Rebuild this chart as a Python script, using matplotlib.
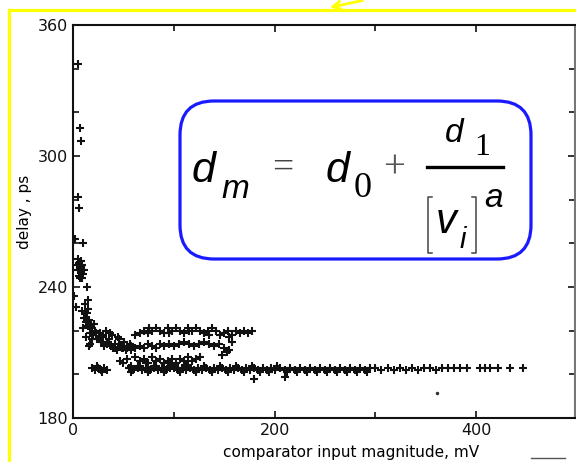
import matplotlib
matplotlib.use("Agg")
import matplotlib.pyplot as plt
from matplotlib.patches import FancyBboxPatch, Rectangle
from matplotlib.lines import Line2D
from matplotlib.transforms import IdentityTransform

## delay vs comparator input magnitude
outlier_v = [5, 7, 8, 5, 6, 2, 10, 1, 3, 14, 15]
outlier_d = [342, 313, 307, 281, 276, 262, 260, 236, 231, 240, 234]

knee_v = [4, 5, 6, 7, 8, 9, 10, 6, 7, 8, 5, 9, 11]
knee_d = [250, 253, 251, 249, 247, 250, 246, 245, 244, 252, 248, 244, 248]

steep_v = [9, 11, 12, 13, 14, 15, 16, 17, 18, 19, 20, 22, 24, 10, 13, 15, 17, 21, 23, 26, 28, 30, 12, 16, 19]
steep_d = [229, 226, 232, 224, 228, 222, 225, 219, 223, 221, 218, 220, 216, 221, 217, 230, 214, 223, 219, 217, 215, 218, 226, 213, 216]

trans_v = [27, 30, 33, 36, 39, 42, 45, 48, 51, 54, 57, 31, 35, 40, 44, 49, 53, 58, 29, 37, 46]
trans_d = [219, 217, 220, 216, 218, 214, 217, 213, 215, 212, 214, 213, 215, 212, 211, 212, 211, 213, 215, 219, 216]

upper_v = [62, 66, 70, 74, 78, 82, 86, 90, 94, 98, 102, 106, 110, 114, 118, 122, 126, 130, 134, 138,
           142, 146, 150, 154, 158, 162, 166, 170, 174, 178, 75, 95, 115, 135, 155]
upper_d = [218, 219, 220, 219, 220, 221, 220, 219, 221, 220, 221, 220, 219, 221, 220, 221, 220, 219, 220, 221,
           220, 218, 219, 220, 218, 220, 219, 220, 219, 220, 221, 219, 220, 218, 217]

band2_v = [34, 38, 42, 46, 50, 54, 58, 62, 66, 70, 74, 78, 82, 86, 90, 95, 100, 105, 110, 115,
           120, 125, 130, 135, 140, 145, 150, 155, 158, 148, 153]
band2_d = [214, 213, 212, 214, 212, 213, 211, 212, 213, 212, 214, 213, 212, 214, 213, 214, 213, 214, 215, 214,
           213, 214, 215, 214, 213, 214, 212, 211, 215, 209, 210]

mid_v = [47, 50, 54, 58, 62, 66, 70, 74, 78, 82, 86, 90, 94, 98, 102, 106, 110, 114, 118, 122, 126,
         56, 64, 72, 80, 88, 96, 104, 112]
mid_d = [206, 205, 207, 204, 208, 206, 207, 205, 208, 206, 207, 205, 206, 207, 205, 207, 206, 208, 206, 207, 208,
         203, 204, 205, 204, 203, 204, 203, 204]

iso_v = [19, 22, 25, 28, 31, 34, 24, 29]
iso_d = [203, 202, 203, 202, 203, 202, 204, 201]

flat_v = [56, 60, 64, 68, 72, 76, 80, 84, 88, 92, 96, 100, 104, 108, 112, 116, 120, 124, 128, 132,
          136, 140, 144, 148, 152, 156, 160, 164, 168, 172, 176, 180, 184, 188, 192, 196, 200, 205, 210, 215,
          220, 225, 230, 235, 240, 245, 250, 255, 260, 265, 270, 275, 280, 285, 290, 295, 300, 306, 312, 318,
          324, 330, 336, 342, 348, 354, 360, 366, 372, 378, 384, 391, 404, 409, 414, 422, 434, 446]
flat_d = [203, 202, 203, 202, 203, 202, 203, 202, 203, 202, 203, 203, 202, 203, 202, 203, 202, 203, 202, 203,
          202, 203, 202, 203, 202, 203, 202, 203, 202, 203, 202, 203, 202, 203, 202, 203, 202, 203, 202, 203,
          202, 203, 202, 203, 202, 203, 202, 203, 202, 203, 202, 203, 202, 203, 202, 203, 203, 202, 203, 202,
          203, 202, 203, 202, 203, 203, 202, 203, 203, 203, 203, 203, 203, 203, 203, 203, 203, 203]

flat2_v = [58, 66, 74, 82, 90, 98, 106, 114, 122, 130, 138, 146, 154, 162, 170, 178, 186, 194, 202, 212,
           222, 232, 242, 252, 262, 272, 282, 292, 180, 210]
flat2_d = [201, 204, 201, 204, 201, 204, 201, 204, 201, 204, 201, 204, 201, 204, 201, 204, 201, 201, 204, 201,
           201, 201, 201, 201, 201, 201, 201, 201, 198, 199]

stray_v = [361]
stray_d = [191.5]

x_ticks = [0, 200, 400]
y_ticks = [180, 240, 300, 360]

fig = plt.figure(figsize=(5.76, 4.62), dpi=100)
ax = fig.add_axes([73/576, 1-418/462, 502/576, 393/462])

groups = [(outlier_v, outlier_d), (knee_v, knee_d), (steep_v, steep_d), (trans_v, trans_d),
          (upper_v, upper_d), (band2_v, band2_d), (mid_v, mid_d), (iso_v, iso_d),
          (flat_v, flat_d), (flat2_v, flat2_d)]
for v, d in groups:
    ax.plot(v, d, '+', color='#111111', markersize=6, mew=1.5)
ax.plot(stray_v, stray_d, '.', color='#333333', markersize=3)

ax.set_xlim(0, 498)
ax.set_ylim(180, 360)
ax.set_xticks(x_ticks)
ax.set_xticks([100, 300], minor=True)
ax.set_yticks(y_ticks)
ax.set_yticks([200, 220, 260, 280, 320, 340], minor=True)
ax.tick_params(which='both', direction='in', top=True, right=True, length=5, width=1.2,
               labelsize=11.5, colors='#111111')
ax.tick_params(which='minor', length=4)
for s in ax.spines.values():
    s.set_linewidth(1.5)
    s.set_color('#111111')
ax.spines['right'].set_color('#777777')

fig.text(25/576, 1-212/462, 'delay , ps', rotation=90, ha='center', va='center', fontsize=11)
fig.text(351/576, 1-453/462, 'comparator input magnitude, mV', ha='center', va='center', fontsize=11)

# formula box
box = FancyBboxPatch((180, 462-259), 351, 158, boxstyle='round,pad=0,rounding_size=34',
                     transform=IdentityTransform(), fill=False, edgecolor='#1a1aff', linewidth=2.3)
fig.patches.append(box)

# formula  d_m = d_0 + d_1 / |v_i|^a, set piece by piece (pixel positions, baseline)
px = IdentityTransform()
def put(s, x, y, size, style='italic', family='Liberation Sans', color='black'):
    fig.text(x, 462 - y, s, transform=px, fontsize=size, fontstyle=style, family=family,
             color=color, ha='left', va='baseline')

put('d', 192, 182, 31)
put('m', 221, 198, 24)
put('=', 272, 178, 27, style='normal', family='Liberation Serif', color='#444444')
put('d', 326, 182, 31)
put('0', 354, 197, 26, style='normal', family='Liberation Serif')
put('+', 383, 178, 28, style='normal', family='Liberation Serif', color='#555555')
fig.add_artist(Line2D([427, 503], [462-167, 462-167], color='black', lw=2.4, transform=px))
put('d', 445, 142, 24)
put('1', 474, 155, 23, style='normal', family='Liberation Serif')
put('v', 436, 233, 30)
put('i', 460, 248, 21)
put('a', 484, 207, 24)
# thin bars around v_i
for bx, sx in [(428, 4), (476, -4)]:
    fig.add_artist(Line2D([bx + sx, bx, bx, bx + sx], [462-197, 462-197, 462-253, 462-253],
                          color='#444444', lw=1.1, transform=px))

# yellow frame + arrow
frame = Rectangle((8.5/576, -0.2), 1.2, 1.2 - 9.5/462, transform=fig.transFigure,
                  fill=False, edgecolor='#ffff00', linewidth=2.3, clip_on=False)
fig.patches.append(frame)
ax.annotate('', xy=(327/576, 1-8/462), xytext=(365/576, 1.0), xycoords='figure fraction',
            textcoords='figure fraction',
            arrowprops=dict(arrowstyle='->', color='#ffff00', lw=2, mutation_scale=14))

fig.add_artist(Line2D([531/576, 565/576], [1-458/462, 1-458/462], color='#555555', lw=1,
                      transform=fig.transFigure))

plt.savefig('out.png', dpi=100)
